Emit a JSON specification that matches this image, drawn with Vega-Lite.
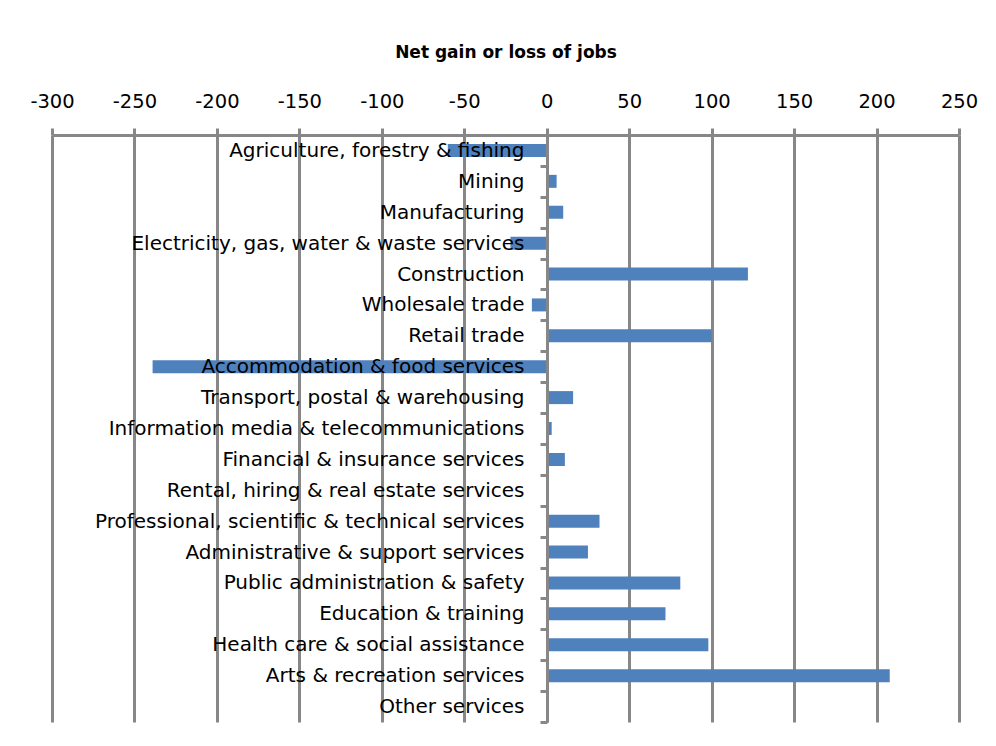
{
  "$schema": "https://vega.github.io/schema/vega-lite/v6.json",
  "width": 907,
  "height": 587,
  "autosize": {"type": "none"},
  "padding": {"left": 52, "top": 135, "right": 37, "bottom": 24},
  "background": "white",
  "config": {"view": {"stroke": null}, "font": "DejaVu Sans"},
  "data": {
    "values": [
      {"industry": "Agriculture, forestry & fishing", "change": -60},
      {"industry": "Mining", "change": 6},
      {"industry": "Manufacturing", "change": 10},
      {"industry": "Electricity, gas, water & waste services", "change": -22},
      {"industry": "Construction", "change": 122},
      {"industry": "Wholesale trade", "change": -9},
      {"industry": "Retail trade", "change": 100},
      {"industry": "Accommodation & food services", "change": -239},
      {"industry": "Transport, postal & warehousing", "change": 16},
      {"industry": "Information media & telecommunications", "change": 3},
      {"industry": "Financial & insurance services", "change": 11},
      {"industry": "Rental, hiring & real estate services", "change": 0},
      {"industry": "Professional, scientific & technical services", "change": 32},
      {"industry": "Administrative & support services", "change": 25},
      {"industry": "Public administration & safety", "change": 81},
      {"industry": "Education & training", "change": 72},
      {"industry": "Health care & social assistance", "change": 98},
      {"industry": "Arts & recreation services", "change": 208},
      {"industry": "Other services", "change": 0}
    ]
  },
  "mark": {"type": "bar", "size": 13, "color": "#4f81bd"},
  "encoding": {
    "x": {
      "field": "change",
      "type": "quantitative",
      "scale": {"domain": [-300, 250], "nice": false, "zero": false},
      "axis": {
        "orient": "top",
        "values": [-300, -250, -200, -150, -100, -50, 0, 50, 100, 150, 200, 250],
        "labelExpr": "toString(datum.value)",
        "labelFlush": false,
        "labelOverlap": false,
        "grid": true,
        "gridColor": "#878787",
        "gridWidth": 3,
        "domainColor": "#878787",
        "domainWidth": 3,
        "tickColor": "#878787",
        "tickWidth": 3,
        "tickSize": 7,
        "labelFontSize": 19.5,
        "labelColor": "#000000",
        "labelPadding": 17,
        "title": "Net gain or loss of jobs",
        "titleFontSize": 17,
        "titleFontWeight": "bold",
        "titleColor": "#000000",
        "titlePadding": 30,
        "zindex": 0
      }
    },
    "y": {
      "field": "industry",
      "type": "nominal",
      "sort": null,
      "scale": {"paddingInner": 0, "paddingOuter": 0},
      "axis": {
        "orient": "left",
        "offset": -495,
        "title": null,
        "domainColor": "#878787",
        "domainWidth": 3,
        "tickColor": "#878787",
        "tickWidth": 3,
        "tickSize": 7,
        "tickBand": "extent",
        "labelFontSize": 20,
        "labelColor": "#000000",
        "labelPadding": 16,
        "labelLimit": 1000,
        "zindex": 1
      }
    }
  }
}
